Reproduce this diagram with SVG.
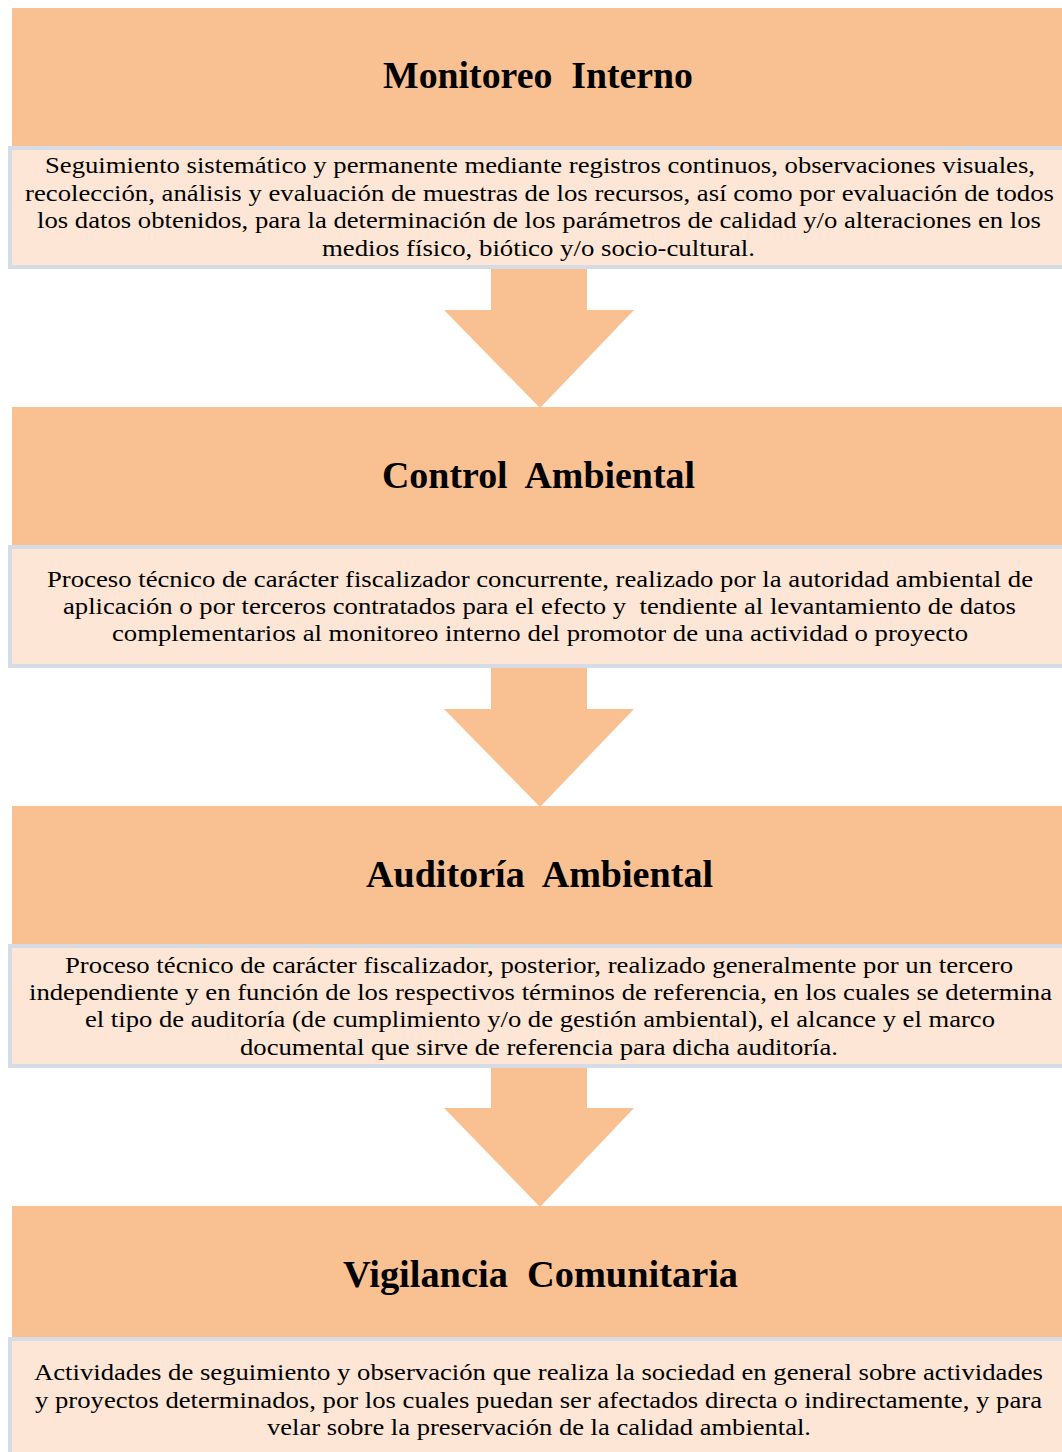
<svg xmlns="http://www.w3.org/2000/svg" width="1062" height="1452" viewBox="0 0 1062 1452">
<style>
.hdr{fill:#F9C192;}
.box{fill:#FDE6D5;stroke:#D6DCE6;stroke-width:4;}
.arrow{fill:#F9C192;}
.title{font-family:'Times New Roman','Liberation Serif',Times,serif;font-size:37px;font-weight:bold;fill:#000;white-space:pre;}
.body{font-family:'Times New Roman','Liberation Serif',Times,serif;font-size:23px;fill:#000;}
</style>
<rect x="0" y="0" width="1062" height="1452" fill="#FFFFFF"/>
<g id="connectors">
<polygon class="arrow" points="491,268 587,268 587,310 634,310 540,408 444,310 491,310"/>
<polygon class="arrow" points="491,667 587,667 587,709 634,709 540,807 444,709 491,709"/>
<polygon class="arrow" points="491,1066 587,1066 587,1108 634,1108 540,1207 444,1108 491,1108"/>
</g>
<g id="monitoreo-interno">
<rect class="hdr" x="12" y="8" width="1050" height="138"/>
<text class="title" x="383" y="88" textLength="310" lengthAdjust="spacingAndGlyphs" xml:space="preserve">Monitoreo  Interno</text>
<rect class="box" x="10" y="148" width="1060" height="119"/>
<text class="body" x="45" y="173" textLength="990" lengthAdjust="spacingAndGlyphs">Seguimiento sistemático y permanente mediante registros continuos, observaciones visuales,</text>
<text class="body" x="25" y="201" textLength="1029" lengthAdjust="spacingAndGlyphs">recolección, análisis y evaluación de muestras de los recursos, así como por evaluación de todos</text>
<text class="body" x="37" y="228" textLength="1004" lengthAdjust="spacingAndGlyphs">los datos obtenidos, para la determinación de los parámetros de calidad y/o alteraciones en los</text>
<text class="body" x="322" y="256" textLength="433" lengthAdjust="spacingAndGlyphs">medios físico, biótico y/o socio-cultural.</text>
</g>
<g id="control-ambiental">
<rect class="hdr" x="12" y="407" width="1050" height="138"/>
<text class="title" x="382" y="488" textLength="313" lengthAdjust="spacingAndGlyphs" xml:space="preserve">Control  Ambiental</text>
<rect class="box" x="10" y="547" width="1060" height="119"/>
<text class="body" x="47" y="587" textLength="986" lengthAdjust="spacingAndGlyphs">Proceso técnico de carácter fiscalizador concurrente, realizado por la autoridad ambiental de</text>
<text class="body" x="63" y="614" textLength="953" lengthAdjust="spacingAndGlyphs" xml:space="preserve">aplicación o por terceros contratados para el efecto y  tendiente al levantamiento de datos</text>
<text class="body" x="112" y="641" textLength="856" lengthAdjust="spacingAndGlyphs">complementarios al monitoreo interno del promotor de una actividad o proyecto</text>
</g>
<g id="auditoria-ambiental">
<rect class="hdr" x="12" y="806" width="1050" height="138"/>
<text class="title" x="366" y="887" textLength="347" lengthAdjust="spacingAndGlyphs" xml:space="preserve">Auditoría  Ambiental</text>
<rect class="box" x="10" y="946" width="1060" height="120"/>
<text class="body" x="65" y="973" textLength="948" lengthAdjust="spacingAndGlyphs">Proceso técnico de carácter fiscalizador, posterior, realizado generalmente por un tercero</text>
<text class="body" x="29" y="1000" textLength="1023" lengthAdjust="spacingAndGlyphs">independiente y en función de los respectivos términos de referencia, en los cuales se determina</text>
<text class="body" x="85" y="1027" textLength="910" lengthAdjust="spacingAndGlyphs">el tipo de auditoría (de cumplimiento y/o de gestión ambiental), el alcance y el marco</text>
<text class="body" x="240" y="1055" textLength="598" lengthAdjust="spacingAndGlyphs">documental que sirve de referencia para dicha auditoría.</text>
</g>
<g id="vigilancia-comunitaria">
<rect class="hdr" x="12" y="1206" width="1050" height="131"/>
<text class="title" x="343" y="1287" textLength="395" lengthAdjust="spacingAndGlyphs" xml:space="preserve">Vigilancia  Comunitaria</text>
<rect class="box" x="10" y="1339" width="1060" height="130"/>
<text class="body" x="34" y="1380" textLength="1009" lengthAdjust="spacingAndGlyphs">Actividades de seguimiento y observación que realiza la sociedad en general sobre actividades</text>
<text class="body" x="35" y="1408" textLength="1007" lengthAdjust="spacingAndGlyphs">y proyectos determinados, por los cuales puedan ser afectados directa o indirectamente, y para</text>
<text class="body" x="267" y="1435" textLength="544" lengthAdjust="spacingAndGlyphs">velar sobre la preservación de la calidad ambiental.</text>
</g>
</svg>
